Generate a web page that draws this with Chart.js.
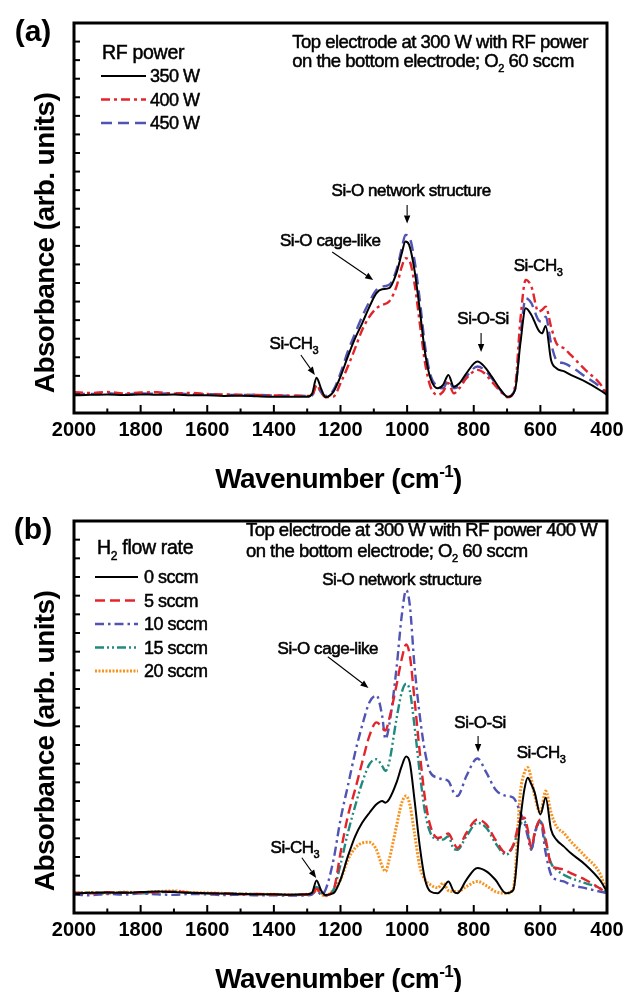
<!DOCTYPE html>
<html><head><meta charset="utf-8">
<script src="https://cdn.jsdelivr.net/npm/chart.js@4.4.1/dist/chart.umd.min.js"></script>
<style>
html,body{margin:0;padding:0;background:#fff;}
#wrap{position:relative;width:639px;height:992px;background:#fff;}
canvas{display:block;position:absolute;left:0;}
</style></head><body>
<div id="wrap">
<canvas id="ca" width="639" height="498" style="top:0"></canvas>
<canvas id="cb" width="639" height="494" style="top:498px"></canvas>
</div>
<script>
// ---------- data: panel (a) ----------
const wavenumbersA = [2000,1950,1900,1850,1800,1750,1700,1650,1600,1550,1500,1450,1400,1350,1300,
  1285,1272,1258,1245,
  1221,1200,1178,1156,1135,1113,1092,1075,1054,1032,
  1016,1005,994,978,962,946,930,908,892,876,
  860,843,822,789,768,746,719,698,676,660,
  644,627,606,595,584,568,552,530,509,465,
  422,400];
const rf350W = [0.95,0.98,1.0,0.97,1.0,0.98,0.99,0.96,0.95,0.92,0.93,0.9,0.88,0.88,0.87,
  1.05,1.9,1.3,0.85,
  1.15,1.96,3.04,4.03,4.83,5.73,6.45,6.66,6.72,7.53,
  8.60,9.23,9.05,7.71,5.55,3.22,1.87,1.33,1.51,2.05,
  1.42,1.60,2.14,2.77,2.50,1.96,1.24,0.88,1.24,3.76,
  5.64,5.28,4.47,4.29,4.69,2.86,2.41,2.25,2.05,1.69,
  1.24,0.97];
const rf400W = [1.12,1.08,1.13,1.05,1.1,1.12,1.04,1.08,1.02,1.0,0.98,0.97,0.95,0.93,0.92,
  0.95,1.51,1.1,0.85,
  0.88,1.60,2.50,3.49,4.47,5.19,5.64,5.82,6.00,6.81,
  7.88,8.33,8.24,6.99,4.83,2.68,1.42,0.97,1.15,1.60,
  1.06,1.33,1.87,2.32,2.14,1.69,1.15,0.85,1.42,5.01,
  7.17,6.81,5.46,5.55,5.73,4.65,3.76,3.49,3.13,2.32,
  1.60,1.02];
const rf450W = [1.05,1.02,1.06,1.0,1.05,1.03,1.07,1.0,1.02,0.98,0.97,0.98,0.94,0.93,0.92,
  0.95,1.51,1.1,0.92,
  1.24,2.14,3.31,4.29,5.19,6.00,6.63,6.81,6.90,7.71,
  8.87,9.59,9.50,8.24,6.09,3.58,2.05,1.42,1.33,1.78,
  1.33,1.46,1.96,2.50,2.32,1.87,1.21,0.88,1.28,4.12,
  6.18,5.91,5.01,4.92,5.19,3.76,2.86,2.68,2.50,1.96,
  1.42,1.02];
const seriesNamesA = ['350 W','400 W','450 W'];

// ---------- data: panel (b) ----------
const wavenumbersB = [2000,1950,1900,1850,1800,1750,1700,1650,1600,1550,1500,1450,1400,1350,1300,
  1285,1272,1258,1245,
  1221,1200,1178,1156,1135,1113,1092,1075,1065,1054,
  1032,1016,1003,992,978,962,946,930,908,892,
  876,860,849,822,789,762,735,703,681,660,
  648,638,627,617,600,584,568,552,530,509,
  465,422,400];
const h2_0sccm = [1.05,1.08,1.1,1.08,1.12,1.15,1.12,1.08,1.06,1.04,1.02,1.0,1.0,0.98,1.0,
  1.1,1.74,1.2,0.97,
  1.06,1.78,3.03,4.11,4.83,5.37,5.82,6.00,5.91,6.09,
  6.98,7.88,8.38,8.06,6.09,3.57,1.78,1.15,1.06,1.33,
  1.69,1.15,1.06,1.78,2.41,2.23,1.78,1.06,1.24,5.01,
  6.62,7.25,6.89,6.45,5.28,6.18,4.47,3.93,3.57,3.21,
  2.59,1.78,1.15];
const h2_5sccm = [1.1,1.05,1.12,1.08,1.1,1.12,1.15,1.1,1.05,1.06,1.0,1.02,0.98,0.97,0.98,
  1.0,1.3,1.05,0.95,
  1.24,3.21,5.19,6.62,8.06,9.50,10.21,9.95,9.77,10.39,
  12.19,13.63,14.38,13.80,11.47,8.60,6.09,4.65,4.02,4.11,
  4.26,3.75,3.48,4.29,5.01,4.74,3.93,3.21,3.66,5.01,
  5.10,4.47,3.48,4.29,5.01,3.93,2.59,2.41,2.32,2.14,
  1.78,1.33,1.06];
const h2_10sccm = [1.0,0.95,1.02,0.98,1.05,1.0,0.97,1.02,1.0,0.96,0.98,0.95,0.95,0.93,0.95,
  1.0,1.2,1.0,1.24,
  2.85,5.01,6.80,8.60,10.04,11.29,11.65,10.57,9.32,10.04,
  13.09,15.96,17.30,16.50,13.27,10.57,8.60,7.52,7.25,7.16,
  7.07,6.45,6.27,7.34,8.28,7.52,6.62,6.27,6.18,5.37,
  4.83,4.11,3.39,4.29,4.92,3.21,2.05,1.78,1.69,1.51,
  1.33,1.15,1.06];
const h2_15sccm = [1.05,1.1,1.08,1.12,1.06,1.1,1.15,1.08,1.05,1.02,1.04,1.0,0.98,0.97,0.98,
  1.05,1.4,1.1,0.95,
  1.24,2.59,4.29,5.73,6.98,7.97,8.24,7.88,7.61,8.06,
  10.39,11.83,12.28,11.92,10.04,7.52,5.37,4.29,3.93,3.93,
  4.11,3.43,3.39,4.11,4.83,4.56,3.75,3.12,3.61,4.74,
  4.92,4.29,3.39,4.20,4.92,3.75,2.68,2.32,2.05,1.87,
  1.60,1.33,1.06];
const h2_20sccm = [1.08,1.1,1.05,1.12,1.1,1.15,1.18,1.1,1.08,1.05,1.03,1.0,1.0,0.98,1.0,
  1.05,1.25,1.0,0.92,
  1.24,1.78,2.85,3.48,3.75,3.79,3.39,2.50,2.23,2.85,
  4.65,5.91,6.27,5.82,4.29,2.50,1.78,1.51,1.35,1.6,
  1.2,1.15,1.15,1.42,1.69,1.46,1.15,1.06,1.33,6.45,
  7.52,7.79,7.16,6.27,5.37,6.53,5.37,4.65,4.29,3.84,
  3.03,2.14,1.06];
const seriesNamesB = ['0 sccm','5 sccm','10 sccm','15 sccm','20 sccm'];

// ---------- axis ----------
const xTickLabels = [2000,1800,1600,1400,1200,1000,800,600,400];
const xTitle = 'Wavenumber (cm^{-1})';
const yTitle = 'Absorbance (arb. units)';

const FONT = "'Liberation Sans', Arial, Helvetica, sans-serif";

function pts(xs, ys){ return xs.map((x,i)=>({x:x, y:ys[i]})); }

function parseRich(s){
  const out=[]; let i=0, buf='';
  while(i<s.length){
    const c=s[i];
    if(c==='_'||c==='^'){
      if(buf){out.push({t:buf,m:0});buf='';}
      let j=i+1, tok='';
      if(s[j]==='{'){ j++; while(j<s.length && s[j]!=='}'){tok+=s[j];j++;} j++; }
      else { tok=s[j]; j++; }
      out.push({t:tok,m:c==='_'?-1:1}); i=j;
    } else { buf+=c; i++; }
  }
  if(buf) out.push({t:buf,m:0});
  return out;
}
function drawRich(ctx,str,x,y,o){
  const parts=parseRich(str), size=o.size, w=o.weight||'normal', ls=(o.ls||0)+'px';
  ctx.save();
  ctx.fillStyle=o.color||'#000'; ctx.strokeStyle=o.color||'#000';
  ctx.textBaseline='alphabetic'; ctx.textAlign='left';
  const fnt=p=>`${w} ${p.m?Math.round(size*0.62):size}px ${FONT}`;
  const widths=parts.map(p=>{ctx.font=fnt(p); ctx.letterSpacing=ls; return ctx.measureText(p.t).width;});
  const total=widths.reduce((a,b)=>a+b,0);
  let cx = o.align==='center'? x-total/2 : (o.align==='right'? x-total : x);
  const base = y + size*0.36;
  parts.forEach((p,i)=>{
    ctx.font=fnt(p); ctx.letterSpacing=ls;
    const dy = p.m===-1? size*0.30 : (p.m===1? -size*0.40 : 0);
    ctx.fillText(p.t,cx,base+dy);
    if(o.stroke){ ctx.lineWidth=o.stroke; ctx.strokeText(p.t,cx,base+dy); }
    cx+=widths[i];
  });
  ctx.letterSpacing='0px';
  ctx.restore();
}
function arrow(ctx,x1,y1,x2,y2){
  ctx.save(); ctx.strokeStyle='#000'; ctx.fillStyle='#000'; ctx.lineWidth=1.1;
  const a=Math.atan2(y2-y1,x2-x1), L=8, H=3.2;
  const bx=x2-L*Math.cos(a), by=y2-L*Math.sin(a);
  ctx.beginPath(); ctx.moveTo(x1,y1); ctx.lineTo(bx,by); ctx.stroke();
  ctx.beginPath(); ctx.moveTo(x2,y2);
  ctx.lineTo(bx+H*Math.sin(a), by-H*Math.cos(a));
  ctx.lineTo(bx-H*Math.sin(a), by+H*Math.cos(a)); ctx.closePath(); ctx.fill();
  ctx.restore();
}

const figurePlugin = {
  id:'figure',
  afterDraw(chart, args, o){
    const ctx=chart.ctx, ca=chart.chartArea, xs=chart.scales.x, ys=chart.scales.y;
    ctx.save();
    ctx.strokeStyle='#000'; ctx.lineWidth=2;
    xs.ticks.forEach(t=>{
      const px=xs.getPixelForValue(t.value);
      const len = xTickLabels.includes(t.value)?8:4.5;
      ctx.beginPath(); ctx.moveTo(px, ca.bottom); ctx.lineTo(px, ca.bottom-len); ctx.stroke();
    });
    ys.ticks.forEach(t=>{
      const py=ys.getPixelForValue(t.value);
      ctx.beginPath(); ctx.moveTo(ca.left,py); ctx.lineTo(ca.left+6,py); ctx.stroke();
    });
    ctx.lineWidth=3;
    ctx.strokeRect(ca.left, ca.top, ca.right-ca.left, ca.bottom-ca.top);
    ctx.restore();

    // axis titles + panel label
    drawRich(ctx, xTitle, (ca.left+ca.right)/2-2, ca.bottom+65, {size:28, weight:'bold', align:'center', ls:-0.6});
    ctx.save(); ctx.translate(44, ca.top+220); ctx.rotate(-Math.PI/2);
    drawRich(ctx, yTitle, 0, 0, {size:28, weight:'bold', align:'center', ls:-0.6});
    ctx.restore();
    drawRich(ctx, o.panel, 33, ca.top+7, {size:30, weight:'bold', align:'center'});

    // legend
    const lg=o.legend;
    drawRich(ctx, lg.title, ca.left+lg.titleDx, ca.top+lg.titleDy, {size:19.5, ls:-0.3, stroke:0.5});
    chart.data.datasets.forEach((d,i)=>{
      const y=ca.top+lg.firstDy+i*lg.step;
      ctx.save(); ctx.strokeStyle=d.borderColor; ctx.lineWidth=d.borderWidth;
      ctx.setLineDash(d.borderDash||[]);
      ctx.beginPath(); ctx.moveTo(ca.left+lg.lineX0,y); ctx.lineTo(ca.left+lg.lineX1,y); ctx.stroke();
      ctx.restore();
      drawRich(ctx, d.label, ca.left+lg.textX, y, {size:18, ls:-0.5, stroke:0.5});
    });

    // box text
    o.note.lines.forEach((l,i)=>{
      drawRich(ctx, l, xs.getPixelForValue(o.note.x), ys.getPixelForValue(o.note.y[i]), {size:18.5, ls:-0.5, stroke:0.5});
    });
    // annotations
    o.annotations.forEach(a=>{
      drawRich(ctx, a.text, xs.getPixelForValue(a.x), ys.getPixelForValue(a.y), {size:17, ls:-0.45, align:'center', stroke:0.55});
      if(a.arrow){
        const r=a.arrow;
        arrow(ctx, xs.getPixelForValue(r[0]), ys.getPixelForValue(r[1]), xs.getPixelForValue(r[2]), ys.getPixelForValue(r[3]));
      }
    });
  }
};

function makeChart(id, datasets, fig, want){
  const chart = new Chart(document.getElementById(id), {
    type:'line',
    data:{datasets},
    options:{
      responsive:false, animation:false, devicePixelRatio:1,
      layout:{padding:{left:74, top:23, right:32, bottom:50}},
      elements:{point:{radius:0}, line:{cubicInterpolationMode:'monotone', borderCapStyle:'butt'}},
      plugins:{legend:{display:false}, tooltip:{enabled:false}, figure:fig},
      scales:{
        x:{type:'linear', reverse:true, min:400, max:2000,
          grid:{display:false, drawTicks:false}, border:{display:false},
          ticks:{stepSize:100, autoSkip:false, maxRotation:0, minRotation:0, padding:5, color:'#000',
            font:{family:FONT, size:20, weight:'bold'},
            callback:(v)=> xTickLabels.includes(v) ? String(v) : ''}},
        y:{type:'linear', min:0, max:21,
          grid:{display:false, drawTicks:false}, border:{display:false},
          ticks:{display:false, stepSize:1}}
      }
    },
    plugins:[figurePlugin]
  });
  for(let k=0;k<3;k++){
    const ca=chart.chartArea, p=chart.options.layout.padding;
    p.left += want.left-ca.left; p.top += want.top-ca.top;
    p.right += ca.right-want.right; p.bottom += ca.bottom-want.bottom;
    chart.update('none');
  }
  return chart;
}

const RED='#e3242b', BLUE='#5054b3', TEAL='#1f8a7f', ORANGE='#f7931e';

makeChart('ca', [
  {label:seriesNamesA[0], data:pts(wavenumbersA, rf350W), borderColor:'#000', borderWidth:2},
  {label:seriesNamesA[1], data:pts(wavenumbersA, rf400W), borderColor:RED, borderWidth:2.4, borderDash:[9,4,3,4]},
  {label:seriesNamesA[2], data:pts(wavenumbersA, rf450W), borderColor:BLUE, borderWidth:2.4, borderDash:[11,6]}
], {
  panel:'(a)',
  legend:{title:'RF power', titleDx:28, titleDy:29, firstDy:53, step:23.5, lineX0:27, lineX1:72, textX:76},
  note:{x:1345, y:[19.99,19.0], lines:['Top electrode at 300 W with RF power','on the bottom electrode; O_2 60 sccm']},
  annotations:[
    {text:'Si-O network structure', x:988, y:12.0, arrow:[1000,11.2,1000,10.2]},
    {text:'Si-O cage-like', x:1231, y:9.32, arrow:[1225,8.67,1102,7.16]},
    {text:'Si-CH_3', x:1340, y:3.77, arrow:[1319,3.12,1277,2.05]},
    {text:'Si-O-Si', x:772, y:5.12, arrow:[778,4.31,778,3.28]},
    {text:'Si-CH_3', x:607, y:7.97}
  ]
}, {left:74, top:23, right:607, bottom:413});

makeChart('cb', [
  {label:seriesNamesB[0], data:pts(wavenumbersB, h2_0sccm), borderColor:'#000', borderWidth:2},
  {label:seriesNamesB[1], data:pts(wavenumbersB, h2_5sccm), borderColor:RED, borderWidth:2.4, borderDash:[10,5]},
  {label:seriesNamesB[2], data:pts(wavenumbersB, h2_10sccm), borderColor:BLUE, borderWidth:2.4, borderDash:[9,4,2.5,4]},
  {label:seriesNamesB[3], data:pts(wavenumbersB, h2_15sccm), borderColor:TEAL, borderWidth:2.4, borderDash:[9,3,2,3,2,3]},
  {label:seriesNamesB[4], data:pts(wavenumbersB, h2_20sccm), borderColor:ORANGE, borderWidth:3, borderDash:[2,1.5]}
], {
  panel:'(b)',
  legend:{title:'H_2 flow rate', titleDx:23, titleDy:26, firstDy:56, step:23.5, lineX0:21, lineX1:64, textX:70},
  note:{x:1484, y:[20.57,19.44], lines:['Top electrode at 300 W with RF power 400 W','on the bottom electrode; O_2 60 sccm']},
  annotations:[
    {text:'Si-O network structure', x:1016, y:17.88},
    {text:'Si-O cage-like', x:1238, y:14.22, arrow:[1238,13.73,1116,12.06]},
    {text:'Si-O-Si', x:781, y:10.23, arrow:[787,9.48,787,8.62]},
    {text:'Si-CH_3', x:598, y:8.62},
    {text:'Si-CH_3', x:1337, y:3.55, arrow:[1316,2.96,1273,1.88]}
  ]
}, {left:74, top:23, right:607, bottom:415});
</script>
</body></html>
